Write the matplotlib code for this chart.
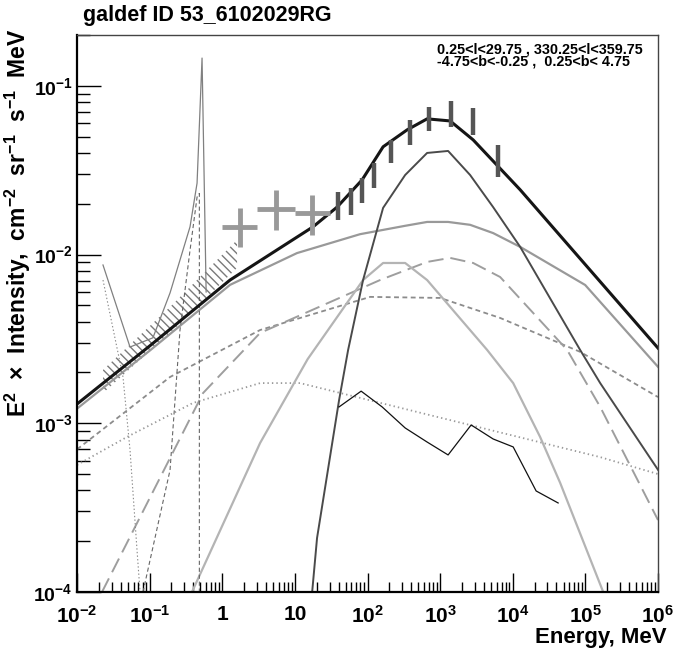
import matplotlib
matplotlib.use('Agg')
import matplotlib.pyplot as plt
from matplotlib.ticker import FixedLocator, FixedFormatter, LogLocator, NullFormatter

plt.rcParams['font.family'] = ['Liberation Sans', 'DejaVu Sans']
plt.rcParams['font.weight'] = 'bold'
plt.rcParams['mathtext.default'] = 'regular'
plt.rcParams['lines.scale_dashes'] = False
plt.rcParams['hatch.linewidth'] = 1.0

# ---- data (E in MeV, E^2 x intensity) ----
total_E = [0.01, 0.1, 1.28, 17.8, 38.1, 84.3, 164, 351, 662, 1374, 2851, 12650, 1e6]
total_I = [1.30e-3, 2.87e-3, 7.06e-3, 1.46e-2, 1.91e-2, 2.77e-2, 4.35e-2, 5.48e-2, 6.37e-2, 6.19e-2, 4.78e-2, 2.42e-2, 2.79e-3]

pion_E = [17.3, 20.2, 40.6, 54.1, 86.9, 164, 330, 662, 1288, 2588, 5370, 12650, 84700, 160000, 1e6]
pion_I = [1e-4, 2.09e-4, 1.37e-3, 2.72e-3, 7.06e-3, 1.89e-2, 2.96e-2, 4.00e-2, 4.11e-2, 2.96e-2, 1.91e-2, 1.11e-2, 2.72e-3, 1.73e-3, 5.3e-4]

ics_E = [0.01, 0.101, 1.28, 10.7, 79, 330, 662, 1288, 2588, 5370, 12650, 99300, 1e6]
ics_I = [1.22e-3, 2.70e-3, 6.61e-3, 1.02e-2, 1.32e-2, 1.48e-2, 1.56e-2, 1.56e-2, 1.50e-2, 1.34e-2, 1.11e-2, 6.6e-3, 2.16e-3]

brems_E = [0.383, 3.32, 15, 86.9, 164, 330, 662, 4440, 10140, 23800, 45000, 176000]
brems_I = [1e-4, 7.64e-4, 2.4e-3, 7.06e-3, 8.91e-3, 8.91e-3, 7.06e-3, 2.72e-3, 1.73e-3, 8.3e-4, 4.43e-4, 1e-4]

longdash_E = [0.0221, 0.544, 3.32, 149, 662, 1374, 2851, 6700, 56100, 160000, 1e6]
longdash_I = [1e-4, 1.51e-3, 3.43e-3, 7.06e-3, 9.04e-3, 9.55e-3, 8.91e-3, 7.36e-3, 2.72e-3, 1.25e-3, 2.67e-4]

shortdash_E = [0.01, 0.191, 3.32, 109, 1000, 6700, 84700, 1e6]
shortdash_I = [7.0e-4, 1.88e-3, 3.57e-3, 5.61e-3, 5.53e-3, 4.21e-3, 2.65e-3, 1.43e-3]

dotted_E = [0.01, 0.0489, 0.396, 3.32, 11.8, 160000, 1e6]
dotted_I = [5.66e-4, 8.3e-4, 1.32e-3, 1.73e-3, 1.73e-3, 6.3e-4, 5.0e-4]

line_E = [0.0228, 0.0537, 0.111, 0.191, 0.36, 0.45, 0.527, 0.6]
line_I = [8.67e-3, 2.83e-3, 3.21e-3, 5.92e-3, 1.46e-2, 2.65e-2, 0.146, 6.0e-3]

lowdot_E = [0.0228, 0.043, 0.0537, 0.067, 0.0738]
lowdot_I = [7.06e-3, 1.88e-3, 6.95e-4, 1.78e-4, 1e-4]

posit_E = [0.081, 0.191, 0.262, 0.36, 0.45, 0.484, 0.484]
posit_I = [1e-4, 5.28e-4, 3.57e-3, 1.06e-2, 2.19e-2, 2.3e-2, 1e-4]

src_E = [40.6, 81.7, 159, 330, 662, 1288, 2673, 5370, 10140, 20990, 42170]
src_I = [1.25e-3, 1.55e-3, 1.25e-3, 9.38e-4, 7.74e-4, 6.49e-4, 9.77e-4, 8.07e-4, 7.24e-4, 3.97e-4, 3.37e-4]

band_E = [0.0228, 0.191, 1.6]
band_lo = [1.51e-3, 3.43e-3, 8.34e-3]
band_hi = [2.07e-3, 4.89e-3, 1.22e-2]

comptel_lo_E = [1, 3, 10]
comptel_hi_E = [3, 10, 30]
comptel_I = [1.46e-2, 1.86e-2, 1.76e-2]
comptel_lo = [1.11e-2, 1.40e-2, 1.31e-2]
comptel_hi = [1.89e-2, 2.42e-2, 2.25e-2]

egret_E = [38.7, 59.2, 83.7, 122, 212, 387, 707, 1414, 2828, 6325]
egret_lo = [1.60e-2, 1.72e-2, 2.01e-2, 2.47e-2, 3.48e-2, 4.47e-2, 5.36e-2, 5.73e-2, 5.12e-2, 2.90e-2]
egret_hi = [2.36e-2, 2.47e-2, 2.83e-2, 3.48e-2, 4.78e-2, 6.28e-2, 7.46e-2, 8.17e-2, 7.36e-2, 4.47e-2]

xtick_vals = [1e-2, 1e-1, 1, 10, 1e2, 1e3, 1e4, 1e5, 1e6]
xtick_labels = ['$10^{-2}$', '$10^{-1}$', '1', '10', '$10^{2}$', '$10^{3}$', '$10^{4}$', '$10^{5}$', '$10^{6}$']
ytick_vals = [1e-4, 1e-3, 1e-2, 1e-1]
ytick_labels = ['$10^{-4}$', '$10^{-3}$', '$10^{-2}$', '$10^{-1}$']

region_text = '0.25<l<29.75 , 330.25<l<359.75\n-4.75<b<-0.25 ,  0.25<b< 4.75'

fig = plt.figure(figsize=(6.85, 6.48), dpi=100)
ax = fig.add_axes([77/685, 56/648, 581/685, 557/648])
ax.set_xscale('log')
ax.set_yscale('log')
ax.set_xlim(1e-2, 1e6)
ax.set_ylim(1e-4, 0.2)

# hatched band
ax.fill_between(band_E, band_lo, band_hi, facecolor='none', edgecolor='#7a7a7a',
                hatch='\\\\\\\\', linewidth=0)

# model curves
ax.plot(dotted_E, dotted_I, color='#9a9a9a', lw=1.3, dashes=(1, 2.2))
ax.plot(shortdash_E, shortdash_I, color='#8c8c8c', lw=1.3, dashes=(3.5, 2.5))
ax.plot(longdash_E, longdash_I, color='#9e9e9e', lw=1.4, dashes=(11, 5))
ax.plot(brems_E, brems_I, color='#b4b4b4', lw=1.6)
ax.plot(ics_E, ics_I, color='#999999', lw=1.6)
ax.plot(pion_E, pion_I, color='#4a4a4a', lw=1.4)
ax.plot(src_E, src_I, color='#111111', lw=0.9)

# low energy components
ax.plot(lowdot_E, lowdot_I, color='#8a8a8a', lw=0.8, dashes=(1, 1.6))
ax.plot(posit_E, posit_I, color='#666666', lw=0.8, dashes=(3, 2))
ax.plot(line_E, line_I, color='#808080', lw=0.9)

ax.plot(total_E, total_I, color='#151515', lw=2.2)

# data points
for lo_e, hi_e, c, lo, hi in zip(comptel_lo_E, comptel_hi_E, comptel_I, comptel_lo, comptel_hi):
    ec = (lo_e * hi_e) ** 0.5
    ax.plot([lo_e, hi_e], [c, c], color='#999999', lw=3.5, solid_capstyle='butt')
    ax.plot([ec, ec], [lo, hi], color='#999999', lw=3.5, solid_capstyle='butt')
ax.vlines(egret_E, egret_lo, egret_hi, color='#555555', lw=3.2)

# axes style (ROOT-like)
ax.xaxis.set_major_locator(FixedLocator(xtick_vals))
ax.xaxis.set_major_formatter(FixedFormatter(xtick_labels))
ax.xaxis.set_minor_locator(LogLocator(base=10, subs=range(2, 10), numticks=20))
ax.xaxis.set_minor_formatter(NullFormatter())
ax.yaxis.set_major_locator(FixedLocator(ytick_vals))
ax.yaxis.set_major_formatter(FixedFormatter(ytick_labels))
ax.yaxis.set_minor_locator(LogLocator(base=10, subs=range(2, 10), numticks=20))
ax.yaxis.set_minor_formatter(NullFormatter())

ax.tick_params(which='both', direction='in', top=False, right=False, color='black', width=1)
ax.tick_params(axis='x', which='major', length=14, pad=9, labelsize=15)
ax.tick_params(axis='x', which='minor', length=7)
ax.tick_params(axis='y', which='major', length=17, pad=3, labelsize=14)
ax.tick_params(axis='y', which='minor', length=9)

for s in ['left', 'bottom']:
    ax.spines[s].set_linewidth(1.6)
    ax.spines[s].set_color('black')
for s in ['top', 'right']:
    ax.spines[s].set_linewidth(1.0)
    ax.spines[s].set_color('#444444')

fig.text(83/685, 1 - 21/648, 'galdef ID 53_6102029RG', fontsize=15.5, fontweight='bold',
         ha='left', va='baseline')
fig.text(437/685, 1 - 42/648, region_text, fontsize=10.4, fontweight='bold',
         ha='left', va='top', linespacing=0.85)
fig.text(667/685, 1 - 643/648, 'Energy, MeV', fontsize=16, fontweight='bold',
         ha='right', va='baseline')
fig.text(18/685, 1 - 28/648, r'E$^{2}$  ×  Intensity,  cm$^{-2}$  sr$^{-1}$  s$^{-1}$  MeV',
         fontsize=16.5, fontweight='bold', rotation=90, ha='center', va='top')

fig.savefig('out.png', dpi=100)
